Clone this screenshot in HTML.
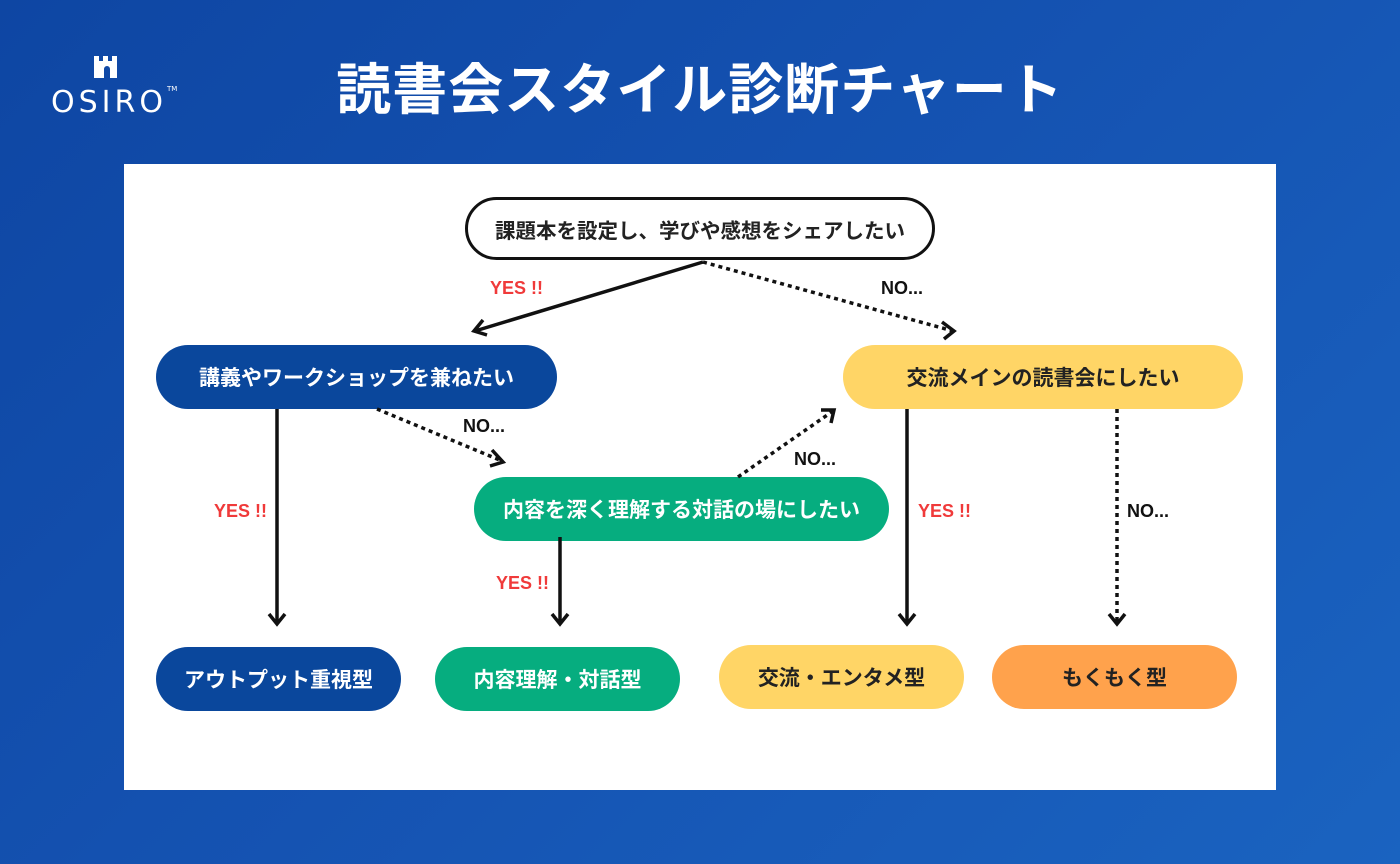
<!DOCTYPE html>
<html><head><meta charset="utf-8"><style>
body{margin:0;width:1400px;height:864px;overflow:hidden;background:linear-gradient(135deg,#0e46a3 0%,#1553b2 50%,#1a63c0 100%);font-family:"Liberation Sans","Noto Sans CJK JP",sans-serif;position:relative}
.t{position:absolute;left:0;width:1400px;top:52px;text-align:center;color:#fff;font-weight:bold;font-size:55px;letter-spacing:1px;line-height:76px}
.panel{position:absolute;left:124px;top:164px;width:1152px;height:626px;background:#fff}
.n{position:absolute;display:flex;align-items:center;justify-content:center;font-weight:bold;font-size:21px;border-radius:32px;box-sizing:border-box}
.l{position:absolute;font-weight:bold;font-size:18px;font-family:"Liberation Sans",sans-serif}
.y{color:#f03a3a}.no{color:#111}
</style></head><body>
<svg style="position:absolute;left:0;top:0" width="1400" height="864">
<path d="M94 56h5v5h4v-5h5v5h4v-5h5v22h-7v-9a3 3 0 0 0-6 0v9h-10z" fill="#fff"/>
</svg>
<div style="position:absolute;left:51px;top:85px;color:#fff;font-size:30px;letter-spacing:4px;font-family:'DejaVu Sans',sans-serif">OSIRO<span style="font-size:7px;vertical-align:top;letter-spacing:0">TM</span></div>
<div class="t">読書会スタイル診断チャート</div>
<div class="panel"></div>
<div class="n" style="left:465px;top:197px;width:470px;height:63px;border:3.5px solid #111;background:#fff;color:#222;font-size:20.5px">課題本を設定し、学びや感想をシェアしたい</div>
<div class="n" style="left:156px;top:345px;width:401px;height:64px;background:#0a479c;color:#fff">講義やワークショップを兼ねたい</div>
<div class="n" style="left:843px;top:345px;width:400px;height:64px;background:#ffd566;color:#222">交流メインの読書会にしたい</div>
<div class="n" style="left:474px;top:477px;width:415px;height:64px;background:#06ad7f;color:#fff">内容を深く理解する対話の場にしたい</div>
<div class="n" style="left:156px;top:647px;width:245px;height:64px;background:#0a479c;color:#fff">アウトプット重視型</div>
<div class="n" style="left:435px;top:647px;width:245px;height:64px;background:#06ad7f;color:#fff">内容理解・対話型</div>
<div class="n" style="left:719px;top:645px;width:245px;height:64px;background:#ffd566;color:#222">交流・エンタメ型</div>
<div class="n" style="left:992px;top:645px;width:245px;height:64px;background:#ffa24c;color:#222">もくもく型</div>
<svg style="position:absolute;left:0;top:0" width="1400" height="864" fill="none" stroke="#111" stroke-width="3.5">
<line x1="703" y1="262" x2="475" y2="331"/><path d="M483 320l-9 11 13 4"/>
<line x1="703" y1="262" x2="953" y2="331" stroke-dasharray="4 4"/><path d="M942 322l12 9-10 8"/>
<line x1="277" y1="409" x2="277" y2="624"/><path d="M269 614l8 10 8-10"/>
<line x1="377" y1="409" x2="502" y2="461" stroke-dasharray="4 4"/><path d="M492 450l11 12-13 4"/>
<line x1="738" y1="477" x2="833" y2="411" stroke-dasharray="4 4"/><path d="M821 410l13 0-3 13"/>
<line x1="560" y1="537" x2="560" y2="624"/><path d="M552 614l8 10 8-10"/>
<line x1="907" y1="409" x2="907" y2="624"/><path d="M899 614l8 10 8-10"/>
<line x1="1117" y1="409" x2="1117" y2="624" stroke-dasharray="4 4"/><path d="M1109 614l8 10 8-10"/>
</svg>
<div class="l y" style="left:490px;top:278px">YES !!</div>
<div class="l no" style="left:881px;top:278px">NO...</div>
<div class="l no" style="left:463px;top:416px">NO...</div>
<div class="l y" style="left:214px;top:501px">YES !!</div>
<div class="l no" style="left:794px;top:449px">NO...</div>
<div class="l y" style="left:496px;top:573px">YES !!</div>
<div class="l y" style="left:918px;top:501px">YES !!</div>
<div class="l no" style="left:1127px;top:501px">NO...</div>
</body></html>
